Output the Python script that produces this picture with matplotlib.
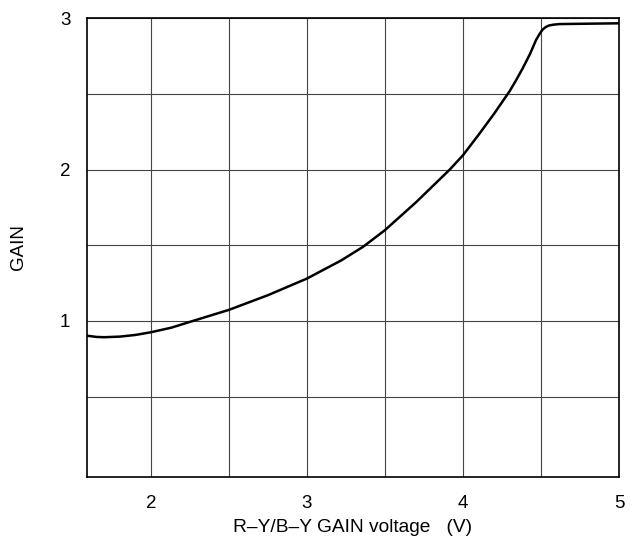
import matplotlib
matplotlib.use("Agg")
import matplotlib.pyplot as plt
import numpy as np

plt.rcParams['font.family'] = ['Liberation Sans', 'DejaVu Sans']

voltage = [1.59, 1.65, 1.7, 1.8, 1.9, 2.0, 2.13, 2.27, 2.5, 2.75, 3.0, 3.22, 3.36, 3.5, 3.7,
           3.915, 4.0, 4.1, 4.2, 4.3, 4.34, 4.383, 4.43, 4.468, 4.49, 4.51, 4.53, 4.55, 4.58, 4.62, 5.0]
gain = [0.902, 0.894, 0.892, 0.896, 0.907, 0.925, 0.955, 1.0, 1.073, 1.17, 1.28, 1.40, 1.49, 1.60, 1.785,
        2.0, 2.095, 2.23, 2.37, 2.52, 2.59, 2.67, 2.765, 2.856, 2.895, 2.925, 2.942, 2.952, 2.958, 2.962, 2.967]

xticks = [2, 3, 4, 5]
yticks = [1, 2, 3]

fig = plt.figure(figsize=(6.32, 5.45), dpi=100)
ax = fig.add_axes([0.1377, 0.1253, 0.9794 - 0.1377, 0.9664 - 0.1253])

ax.plot(voltage, gain, color='black', lw=1.8, solid_joinstyle='round', solid_capstyle='round', zorder=3)

ax.set_xlim(1.59, 5.0)
ax.set_ylim(-0.03, 3.0)
ax.set_xticks(xticks)
ax.set_yticks(yticks)
ax.set_xticks(np.arange(2.0, 5.01, 0.5), minor=True)
ax.set_yticks(np.arange(0.5, 3.01, 0.5), minor=True)
ax.grid(True, which='both', color='#444444', lw=0.8)
ax.tick_params(which='both', length=0, labelsize=13.5)
ax.tick_params(axis='y', pad=12)
ax.tick_params(axis='x', pad=13)
for s in ax.spines.values():
    s.set_linewidth(1.2)
    s.set_color('black')

ax.set_xlabel('R\u2013Y/B\u2013Y GAIN voltage   (V)', fontsize=13.8, labelpad=5)
ax.set_ylabel('GAIN', fontsize=13.5, labelpad=24)

fig.savefig('out.png', dpi=100)
